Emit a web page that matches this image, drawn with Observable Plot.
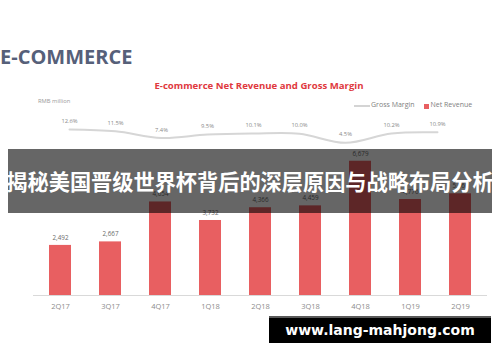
<!DOCTYPE html>
<html>
<head>
<meta charset="utf-8">
<script src="https://cdn.jsdelivr.net/npm/d3@7"></script>
<script src="https://cdn.jsdelivr.net/npm/@observablehq/plot@0.6"></script>
<style>
  html, body { margin: 0; padding: 0; background: #fff; }
  #wrap { position: relative; width: 500px; height: 362px; overflow: hidden; font-family: "Open Sans", sans-serif; }
  .abs { position: absolute; white-space: nowrap; }
  #wrap svg { position: absolute; left: 0; top: 0; }
</style>
</head>
<body>
<div id="wrap">
  <div class="abs" id="bigtitle" style="left:0px; top:43px; font-size:20px; font-weight:700; color:#566079;">E-COMMERCE</div>
  <div class="abs" style="left:0; width:518px; text-align:center; top:79px; font-size:9.6px; font-weight:700; color:#e0393e;">E-commerce Net Revenue and Gross Margin</div>
  <div class="abs" style="left:38px; top:97px; font-size:5.8px; color:#9a9a9a;">RMB million</div>
  <div class="abs" style="left:354px; top:105px; width:16px; height:2px; background:#d4d4d4;"></div>
  <div class="abs" style="left:371px; top:100px; font-size:7px; color:#808080;">Gross Margin</div>
  <div class="abs" style="left:424px; top:103.5px; width:5px; height:5px; background:#e85f61;"></div>
  <div class="abs" style="left:430.5px; top:100px; font-size:7px; color:#808080;">Net Revenue</div>
  <div id="bars"></div>
  <div id="line"></div>
  <div class="abs" style="left:8px; top:149px; width:484px; height:64px; background:rgba(0,0,0,0.6);"></div>
  <div class="abs" style="left:0px; top:149px; width:500px; height:64px; line-height:64px; text-align:center; color:#fff; font-family:'Noto Sans CJK SC', sans-serif; font-weight:700; font-size:21.2px;">揭秘美国晋级世界杯背后的深层原因与战略布局分析</div>
  <div class="abs" style="left:269px; top:316px; width:222px; height:25px; background:#000; border-top:2px solid #595959;"></div>
  <div class="abs" style="left:269px; top:318px; width:222px; height:25px; line-height:25px; text-align:center; color:#fff; font-family:'DejaVu Sans', sans-serif; font-weight:700; font-size:14px;">www.lang-mahjong.com</div>
</div>
<script>
const quarters = ["2Q17","3Q17","4Q17","1Q18","2Q18","3Q18","4Q18","1Q19","2Q19"];
const netRevenue = [2492, 2667, 4654, 3732, 4366, 4459, 6679, 4776, 5060];
const grossMargin = [12.6, 11.5, 7.4, 9.5, 10.1, 10.0, 4.5, 10.2, 10.9];

const barData = quarters.map((q, i) => ({q, v: netRevenue[i]}));
const lineData = quarters.map((q, i) => ({q, m: grossMargin[i]}));
const fmt = d3.format(",");

const bars = Plot.plot({
  width: 500, height: 362,
  marginLeft: 33, marginRight: 13, marginTop: 154.3, marginBottom: 67,
  style: {background: "transparent", fontFamily: "Open Sans, sans-serif", overflow: "visible"},
  x: {type: "band", domain: quarters, paddingInner: 0.56, paddingOuter: 0.284, label: null},
  y: {domain: [0, 7000], axis: null},
  marks: [
    Plot.barY(barData, {x: "q", y: "v", fill: "#e85f61"}),
    Plot.ruleY([0], {stroke: "#d9d9d9", strokeWidth: 1.2}),
    Plot.text(barData, {x: "q", y: "v", text: d => fmt(d.v), dy: -7.5, fill: "#6b6b6b", fontSize: 6.3}),
    Plot.axisX({tickSize: 0, tickPadding: 8, fontSize: 7.5, color: "#8c8c8c", label: null})
  ]
});
document.getElementById("bars").appendChild(bars);

const line = Plot.plot({
  width: 500, height: 362,
  style: {background: "transparent", fontFamily: "Open Sans, sans-serif", overflow: "visible"},
  x: {type: "point", domain: quarters, range: [45, 461], axis: null},
  y: {domain: [4.5, 12.6], range: [142.3, 129], axis: null},
  marks: [
    Plot.line(lineData, {x: "q", y: "m", stroke: "#d6d6d6", strokeWidth: 2, curve: "catmull-rom"}),
    Plot.text(lineData, {x: "q", y: "m", text: d => d.m.toFixed(1) + "%", dy: -8.3, fill: "#8a8a8a", fontSize: 5.8})
  ]
});
document.getElementById("line").appendChild(line);
</script>
</body>
</html>
